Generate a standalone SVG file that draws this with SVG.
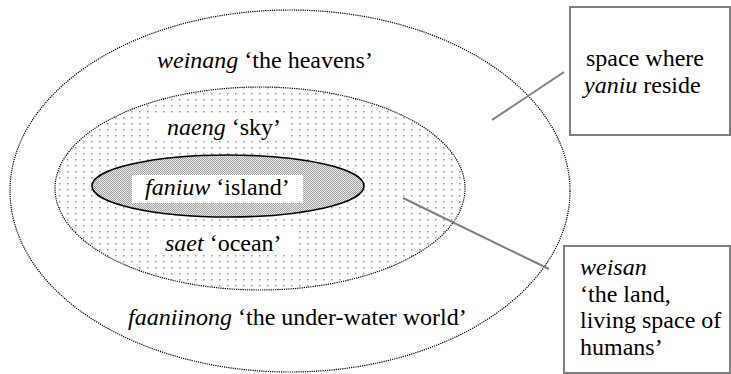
<svg xmlns="http://www.w3.org/2000/svg" width="731" height="374" viewBox="0 0 731 374">
<style>
.t{font-family:"Liberation Serif","Times New Roman",serif;font-size:24px;fill:#000}
.i{font-style:italic}
.box{stroke:#808080;stroke-width:2}
.lead{stroke:#808080;stroke-width:2}
</style>
<defs>
<pattern id="sparse" x="0" y="0" width="8" height="6" patternUnits="userSpaceOnUse">
<rect x="0" y="0" width="8" height="6" fill="#ffffff"/>
<rect x="3" y="3" width="1.5" height="1.5" fill="#9a9a9a"/>
</pattern>
<pattern id="dense" x="0" y="0" width="2" height="2" patternUnits="userSpaceOnUse">
<rect x="0" y="0" width="2" height="2" fill="#ebebeb"/>
<rect x="0" y="0" width="1" height="1" fill="#a0a0a0"/>
<rect x="1" y="1" width="1" height="1" fill="#a0a0a0"/>
</pattern>
</defs>
<g id="weinang">
<ellipse cx="290" cy="191" rx="280" ry="181" fill="#ffffff" stroke="#000000" stroke-width="1.2" stroke-dasharray="1.2 1"/>
<text class="t" x="157" y="68"><tspan class="i">weinang</tspan> ‘the heavens’</text>
<text class="t" x="128" y="325"><tspan class="i">faaniinong</tspan> ‘the under-water world’</text>
</g>
<g id="naeng">
<ellipse cx="260" cy="188.5" rx="205" ry="101.5" fill="url(#sparse)" stroke="#000000" stroke-width="1.2" stroke-dasharray="1.2 1"/>
<rect x="149" y="115" width="138" height="25" fill="#ffffff"/>
<text class="t" x="167" y="135"><tspan class="i">naeng</tspan> ‘sky’</text>
<rect x="150" y="231" width="145" height="23" fill="#ffffff"/>
<text class="t" x="165" y="251"><tspan class="i">saet</tspan> ‘ocean’</text>
</g>
<g id="faniuw">
<ellipse cx="228" cy="186" rx="136" ry="31" fill="url(#dense)" stroke="#000000" stroke-width="1.6"/>
<rect x="132" y="175" width="171" height="28" fill="#ffffff"/>
<text class="t" x="145" y="195"><tspan class="i">faniuw</tspan> ‘island’</text>
</g>
<g id="box-yaniu">
<rect x="570" y="7" width="160" height="128" fill="#ffffff" class="box"/>
<text class="t" x="586" y="66">space where</text>
<text class="t" x="584" y="93"><tspan class="i">yaniu</tspan> reside</text>
</g>
<g id="box-weisan">
<rect x="564" y="246" width="166" height="127" fill="#ffffff" class="box"/>
<text class="t i" x="580" y="275">weisan</text>
<text class="t" x="580" y="302">‘the land,</text>
<text class="t" x="580" y="328">living space of</text>
<text class="t" x="580" y="355">humans’</text>
</g>
<g id="connectors">
<line x1="492" y1="120" x2="564" y2="72" class="lead"/>
<line x1="403" y1="198" x2="549" y2="269" class="lead"/>
</g>
</svg>
